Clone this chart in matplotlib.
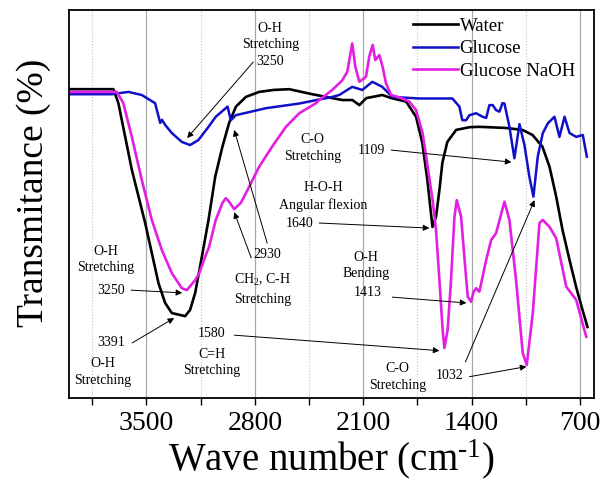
import matplotlib
matplotlib.use('Agg')
import matplotlib.pyplot as plt

# FTIR spectra (wave number in cm-1, transmittance in %)
water_wn = [4000, 3713, 3681, 3594, 3508, 3422, 3379, 3336, 3282, 3250, 3218, 3185, 3142, 3099,
            3056, 3009, 2966, 2922, 2858, 2772, 2680, 2578, 2429, 2300, 2235, 2170, 2125, 2080,
            2041, 1977, 1918, 1823, 1759, 1718, 1686, 1653, 1630, 1608, 1589, 1557, 1500, 1414,
            1350, 1177, 1072, 1007, 943, 897, 854, 813, 768, 725, 684, 652]
water_t = [79.6, 79.6, 76.0, 58.8, 45.1, 29.6, 24.5, 21.9, 21.4, 21.1, 22.7, 27.1, 36.4, 45.9,
           57.0, 64.8, 70.9, 75.1, 77.6, 78.9, 79.4, 79.6, 78.3, 77.3, 76.8, 76.8, 75.5, 77.3,
           77.6, 78.1, 77.3, 76.4, 72.5, 65.7, 56.2, 44.1, 46.7, 53.6, 60.6, 66.0, 69.1, 69.8,
           69.9, 69.6, 69.1, 67.8, 64.8, 59.6, 51.9, 43.3, 35.6, 28.6, 22.7, 18.3]

glucose_wn = [4000, 3724, 3616, 3530, 3444, 3411, 3399, 3379, 3336, 3271, 3218, 3164, 3099, 3052,
              2976, 2955, 2922, 2728, 2513, 2300, 2255, 2171, 2106, 2041, 1977, 1912, 1737, 1524,
              1479, 1460, 1436, 1414, 1371, 1330, 1306, 1285, 1264, 1242, 1220, 1201, 1188, 1156,
              1124, 1091, 1059, 1027, 1001, 973, 941, 908, 865, 833, 800, 768, 725, 682, 656]
glucose_t = [78.3, 78.3, 78.9, 78.1, 76.0, 70.9, 71.7, 70.4, 68.3, 66.0, 65.2, 66.5, 69.9, 72.5,
             75.1, 71.6, 72.9, 74.7, 75.9, 77.6, 78.1, 80.2, 79.4, 81.5, 80.2, 77.6, 77.2, 77.2,
             75.1, 71.6, 71.6, 72.9, 73.4, 72.5, 72.2, 75.5, 75.5, 74.2, 73.8, 76.0, 75.9, 69.9,
             61.8, 70.6, 65.2, 57.0, 51.9, 62.2, 68.2, 70.8, 72.5, 67.3, 72.5, 68.3, 67.3, 67.8, 62.2]

naoh_wn = [4000, 3691, 3649, 3594, 3530, 3465, 3400, 3336, 3271, 3239, 3185, 3159, 3121, 3095,
           3052, 3009, 2987, 2966, 2933, 2890, 2836, 2772, 2688, 2599, 2513, 2405, 2384, 2300,
           2235, 2203, 2171, 2151, 2125, 2082, 2061, 2039, 2022, 1996, 1975, 1953, 1920, 1867,
           1802, 1759, 1716, 1684, 1652, 1630, 1608, 1587, 1576, 1555, 1533, 1511, 1496, 1468,
           1447, 1425, 1403, 1388, 1371, 1350, 1306, 1274, 1242, 1188, 1156, 1113, 1070, 1044,
           1005, 962, 941, 897, 854, 789, 725, 660]
naoh_t = [78.9, 78.9, 76.0, 67.3, 56.2, 45.9, 38.1, 32.2, 28.3, 27.8, 30.4, 32.2, 36.4, 39.0,
          45.9, 50.3, 51.5, 50.6, 48.7, 50.3, 54.5, 59.6, 64.8, 69.9, 73.4, 76.0, 76.8, 79.4,
          81.9, 84.1, 91.4, 85.4, 81.5, 82.8, 88.0, 91.0, 87.1, 88.4, 85.4, 81.1, 78.1, 77.5,
          76.4, 74.2, 68.2, 59.6, 51.0, 43.3, 30.4, 17.5, 12.9, 17.5, 30.4, 46.7, 51.0, 46.7,
          36.4, 26.1, 24.8, 27.3, 28.3, 27.4, 35.6, 40.7, 42.5, 50.6, 45.9, 30.4, 11.6, 8.5,
          21.9, 45.1, 45.9, 44.1, 41.2, 28.7, 25.3, 15.8]

series_names = ['Water', 'Glucose', 'Glucose NaOH']
major_ticks = [3500, 2800, 2100, 1400, 700]
minor_ticks = [3850, 3150, 2450, 1750, 1050]

plt.rcParams['font.family'] = ['Liberation Serif', 'DejaVu Serif']
plt.rcParams['mathtext.fontset'] = 'custom'
plt.rcParams['mathtext.rm'] = 'Liberation Serif'
plt.rcParams['mathtext.it'] = 'Liberation Serif:italic'

fig = plt.figure(figsize=(6.04, 4.80), dpi=100)
ax = fig.add_axes([0.1142, 0.1708, 0.8692, 0.8083])

# grid: solid for major, dotted for minor
ax.set_xticks(major_ticks)
ax.set_xticks(minor_ticks, minor=True)
ax.grid(True, which='major', axis='x', color='#a8a8a8', lw=0.9, ls='-')
ax.grid(True, which='minor', axis='x', color='#c4c4c4', lw=0.8, ls=':')
ax.set_axisbelow(True)

ax.plot(water_wn, water_t, color='black', lw=1.9, label=series_names[0])
ax.plot(glucose_wn, glucose_t, color='#1010c8', lw=1.8, label=series_names[1])
ax.plot(naoh_wn, naoh_t, color='#e21fe2', lw=1.9, label=series_names[2])

ax.set_xlim(4000, 610)
ax.set_ylim(0, 100)
ax.set_yticks([])
ax.tick_params(axis='x', which='both', direction='out', length=5, width=1, labelsize=20, pad=4, top=False)
for s in ax.spines.values():
    s.set_linewidth(1.3)

ax.set_xlabel('Wave number (cm$^{\\text{-1}}$)', fontsize=28, labelpad=1)
ax.set_ylabel('Transmitance (%)', fontsize=27)
ax.yaxis.set_label_coords(-0.035, 0.53)

leg = ax.legend(loc='upper left', bbox_to_anchor=(0.655, 0.98), frameon=False, fontsize=13.5,
                handlelength=2.4, handletextpad=0.1, labelspacing=0.28, borderpad=0, borderaxespad=0)

# annotations
fs = 10
arw = dict(arrowstyle='-|>', color='black', lw=0.7, mutation_scale=9, shrinkA=0, shrinkB=0)

ax.text(2700, 91.0, 'O-H\nStretching\n3250', ha='center', va='center', fontsize=fs, linespacing=1.35)
ax.annotate('', xy=(3237, 67.0), xytext=(2810, 86.6), arrowprops=arw)

ax.text(2720, 36.9, '2930', ha='center', va='center', fontsize=fs)
ax.annotate('', xy=(2933, 69.1), xytext=(2720, 39.9), arrowprops=arw)
ax.annotate('', xy=(2933, 47.9), xytext=(2823, 36.1), arrowprops=arw)
ax.text(2752, 28.1, 'CH$_2$, C-H\nStretching', ha='center', va='center', fontsize=fs, linespacing=1.5)

ax.text(3760, 35.7, 'O-H\nStretching', ha='center', va='center', fontsize=fs, linespacing=1.35)
ax.text(3728, 27.8, '3250', ha='center', va='center', fontsize=fs)
ax.annotate('', xy=(3269, 27.1), xytext=(3599, 27.8), arrowprops=arw)

ax.text(3728, 14.4, '3391', ha='center', va='center', fontsize=fs)
ax.annotate('', xy=(3321, 20.6), xytext=(3592, 14.2), arrowprops=arw)
ax.text(3780, 6.7, 'O-H\nStretching', ha='center', va='center', fontsize=fs, linespacing=1.35)

ax.text(3082, 16.5, '1580', ha='center', va='center', fontsize=fs)
ax.annotate('', xy=(1608, 12.2), xytext=(2933, 16.2), arrowprops=arw)
ax.text(3079, 9.1, 'C=H\nStretching', ha='center', va='center', fontsize=fs, linespacing=1.35)

ax.text(2429, 64.4, 'C-O\nStretching', ha='center', va='center', fontsize=fs, linespacing=1.35)

ax.text(2358, 51.9, 'H-O-H\nAngular flexion', ha='center', va='center', fontsize=fs, linespacing=1.35)
ax.text(2513, 45.1, '1640', ha='center', va='center', fontsize=fs)
ax.annotate('', xy=(1673, 43.8), xytext=(2384, 45.1), arrowprops=arw)

ax.text(2048, 63.9, '1109', ha='center', va='center', fontsize=fs)
ax.annotate('', xy=(1143, 60.8), xytext=(1919, 63.9), arrowprops=arw)

ax.text(2083, 34.1, 'O-H\nBending', ha='center', va='center', fontsize=fs, linespacing=1.35)
ax.text(2074, 27.1, '1413', ha='center', va='center', fontsize=fs)
ax.annotate('', xy=(1434, 24.5), xytext=(1912, 26.0), arrowprops=arw)

ax.text(1880, 5.4, 'C-O\nStretching', ha='center', va='center', fontsize=fs, linespacing=1.35)

ax.text(1544, 5.7, '1032', ha='center', va='center', fontsize=fs)
ax.annotate('', xy=(1046, 8.1), xytext=(1414, 5.5), arrowprops=arw)
ax.annotate('', xy=(994, 51.0), xytext=(1440, 9.3), arrowprops=arw)

fig.savefig('out.png', dpi=100)
